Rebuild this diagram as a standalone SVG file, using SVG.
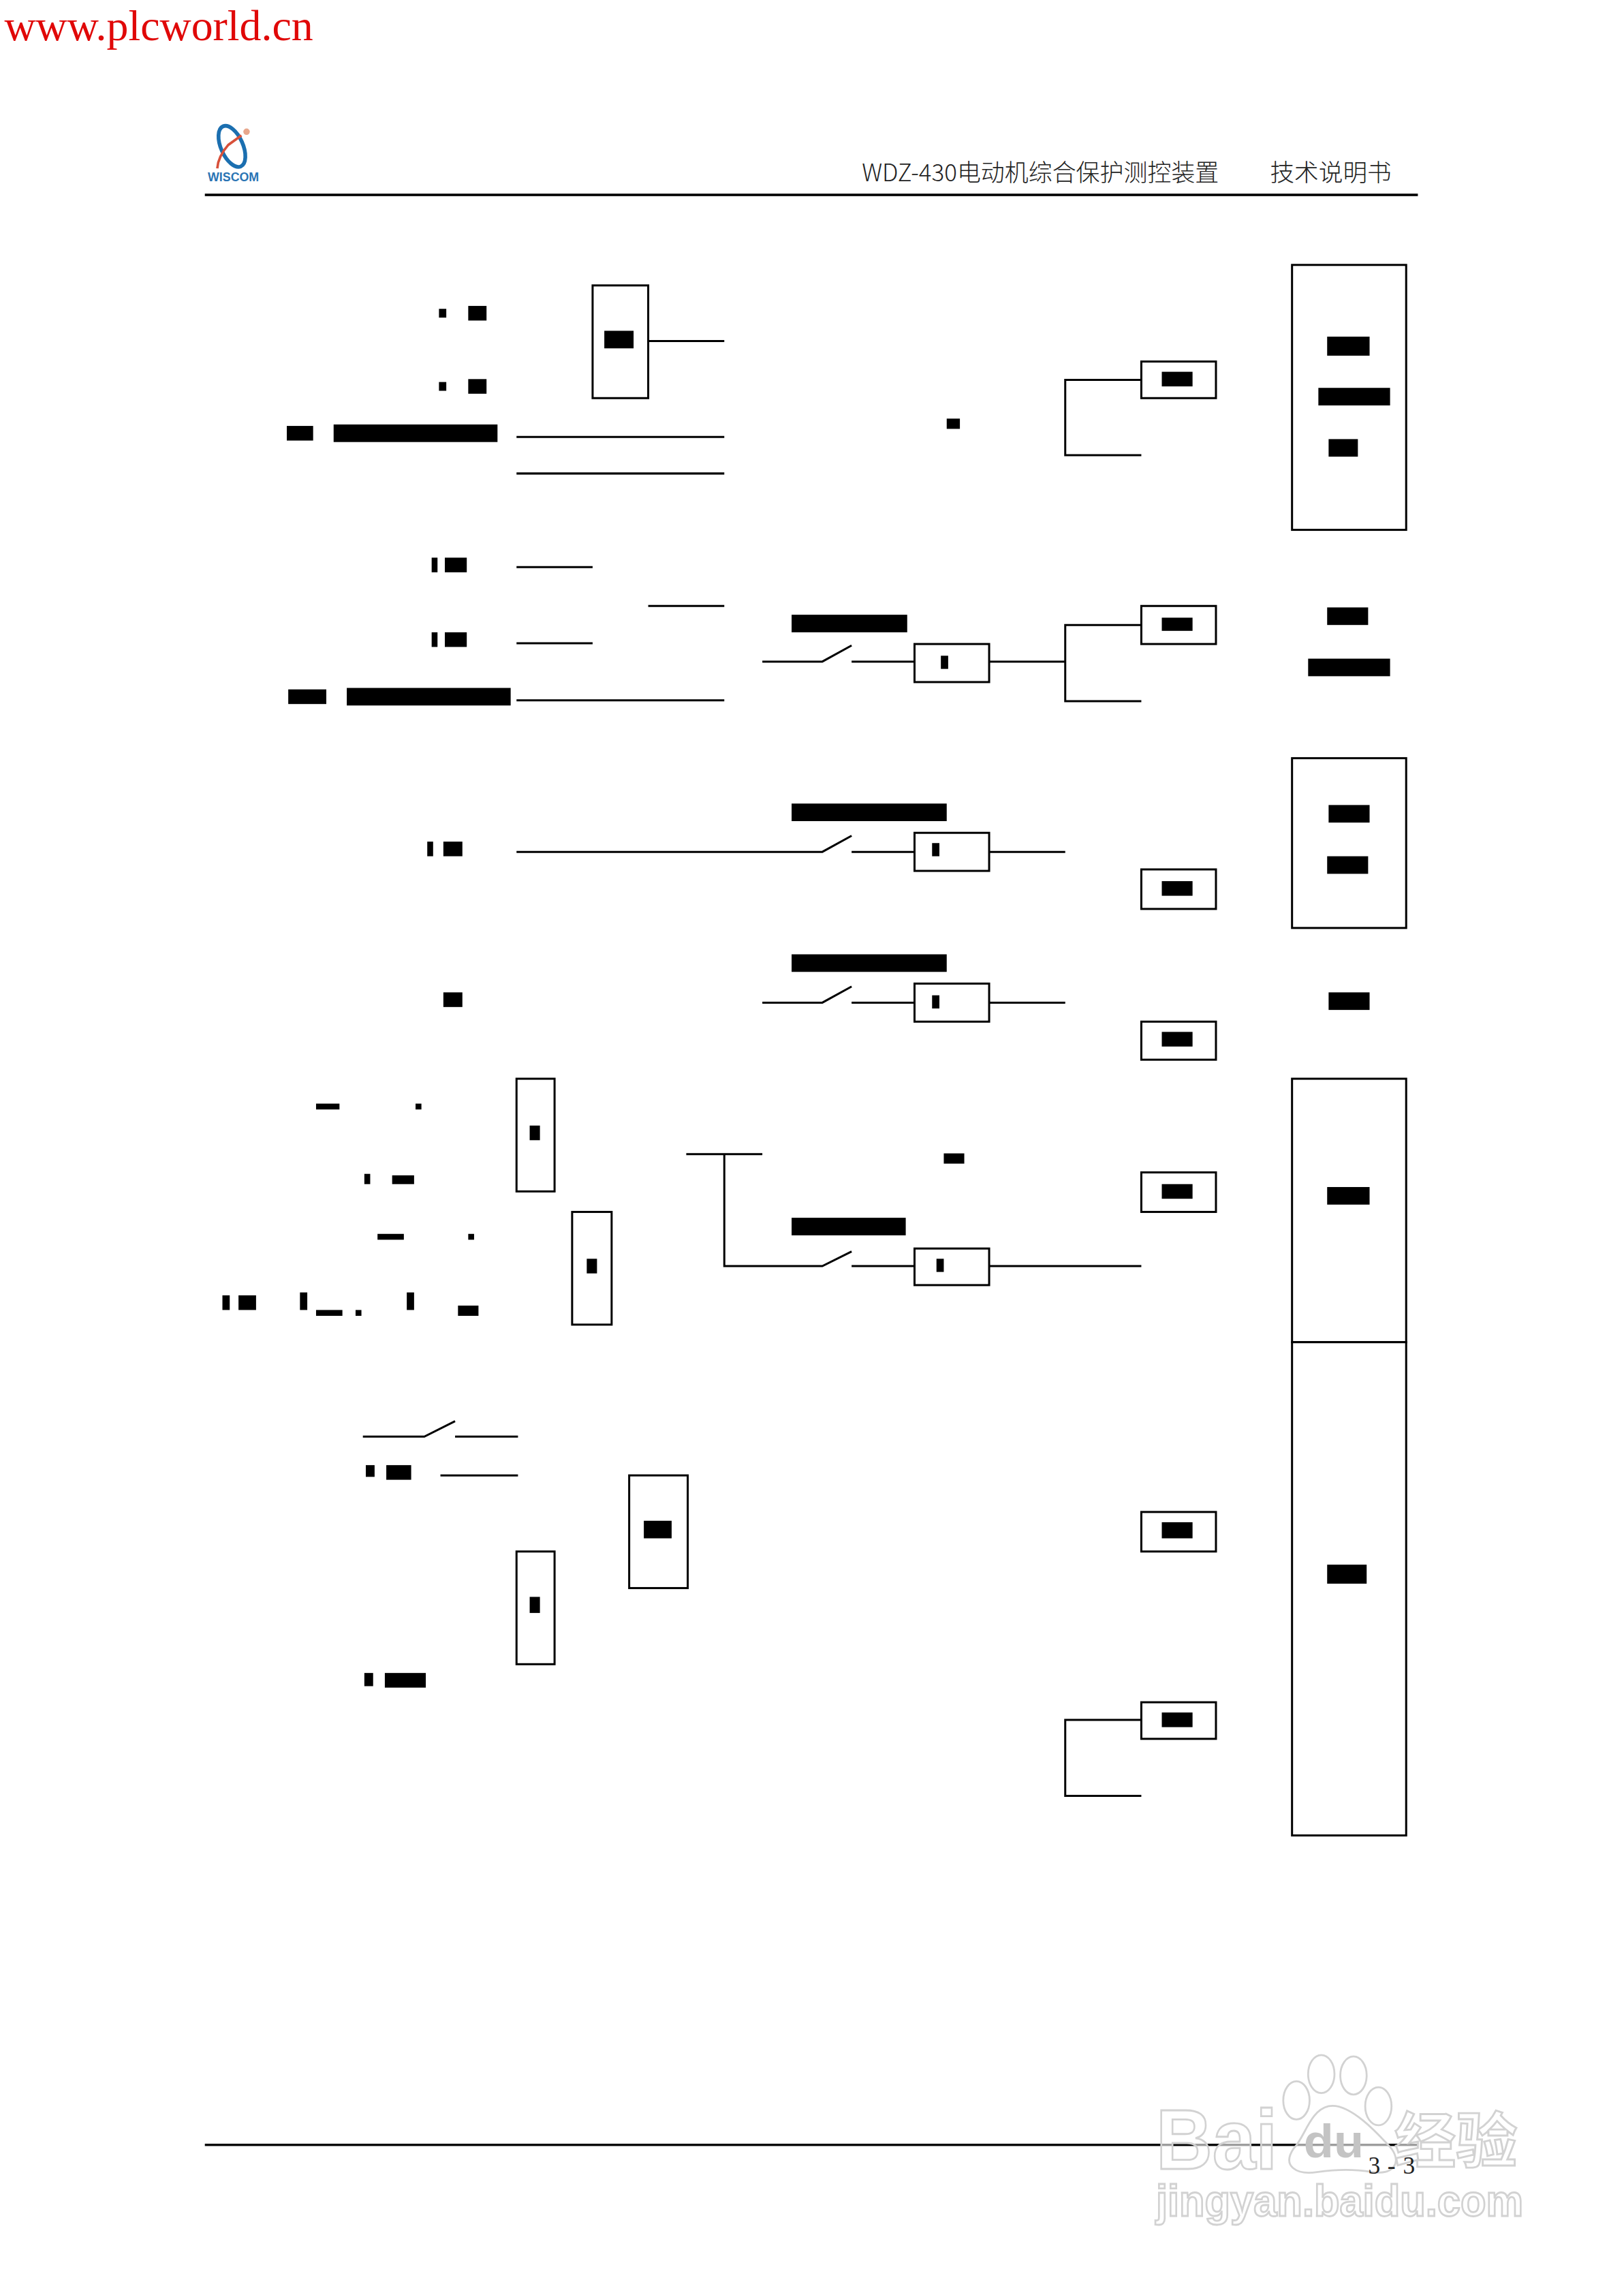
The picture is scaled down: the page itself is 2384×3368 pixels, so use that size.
<svg xmlns="http://www.w3.org/2000/svg" width="2384" height="3368" viewBox="0 0 2384 3368">
<style>
.b{fill:#fff;stroke:#000;stroke-width:1.4}
.n{fill:none;stroke:#000;stroke-width:1.4}
.r{fill:#000}
.wm{fill:#fff;fill-opacity:.62;stroke:#d2d2d2;stroke-width:1.3;font-family:"Liberation Sans",Arial,sans-serif;font-weight:700}
</style>
<rect width="2384" height="3368" fill="#fff"/>
<g transform="scale(2.148)">
<g id="site-mark"><text x="3" y="27.500" font-family="'Liberation Serif',serif" font-size="29.500" fill="#e00808" textLength="211" lengthAdjust="spacingAndGlyphs">www.plcworld.cn</text></g>
<g id="logo">
<ellipse cx="158.500" cy="100" rx="7.500" ry="15" transform="rotate(-24 158.500 100)" fill="none" stroke="#1b6fb0" stroke-width="2.600"/>
<path d="M165 92.500L156 99Q149 107 148.500 115" fill="none" stroke="#d8503a" stroke-width="1.700"/>
<circle cx="168.500" cy="90" r="2.200" fill="#e8a78c"/>
<text x="142" y="124" font-family="'Liberation Sans',sans-serif" font-size="8.500" font-weight="700" fill="#2a74b4" textLength="35" lengthAdjust="spacingAndGlyphs">WISCOM</text>
</g>
<g id="page-header">
<text x="589" y="124" font-family="'Noto Sans CJK SC','Liberation Serif',serif" font-size="16.300" font-weight="300" fill="#222" textLength="244" lengthAdjust="spacingAndGlyphs">WDZ-430电动机综合保护测控装置</text>
<text x="868" y="124" font-family="'Noto Sans CJK SC',serif" font-size="16.500" font-weight="300" fill="#222" textLength="83" lengthAdjust="spacingAndGlyphs">技术说明书</text>
<rect x="140" y="132.300" width="829" height="1.700" class="r"/>
</g>
<g id="connectors">
<path class="n" d="M443 233H495M353 298.500H495M353 323.500H495M353 387.500H405M443 414H495M353 439.500H405M353 478.500H495"/>
<path class="n" d="M780 259.500H728V311H780"/>
<path class="n" d="M521 452H562L582 441M582 452H625M676 452H728M780 427H728V479H780"/>
<path class="n" d="M353 582H562L582 571M582 582H625M676 582H728"/>
<path class="n" d="M521 685H562L582 674M582 685H625M676 685H728"/>
<path class="n" d="M469 788.500H521M495 788.500V865H562L582 855M582 865H625M676 865H780"/>
<path class="n" d="M248 981.500H290L311 971M311 981.500H354M301 1008H354"/>
<path class="n" d="M780 1175H728V1227H780"/>
</g>
<g id="labels-left">
<rect class="r" x="300" y="211" width="5" height="6"/><rect class="r" x="320" y="209" width="12.500" height="10"/>
<rect class="r" x="300" y="261" width="5" height="6"/><rect class="r" x="320" y="259" width="12.500" height="10"/>
<rect class="r" x="196" y="291" width="18" height="10"/><rect class="r" x="228" y="290" width="112" height="12"/>
<rect class="r" x="295" y="381" width="4" height="10"/><rect class="r" x="304" y="381" width="15" height="10"/>
<rect class="r" x="295" y="432" width="4" height="10"/><rect class="r" x="304" y="432" width="15" height="10"/>
<rect class="r" x="197" y="471" width="26" height="10"/><rect class="r" x="237" y="470" width="112" height="12"/>
<rect class="r" x="292" y="575" width="4" height="10"/><rect class="r" x="303" y="575" width="13" height="10"/>
<rect class="r" x="303" y="678" width="13" height="10"/>
<rect class="r" x="216" y="754" width="16" height="4"/><rect class="r" x="284" y="754" width="4" height="4"/>
<rect class="r" x="249" y="802" width="4" height="7"/><rect class="r" x="268" y="803" width="15" height="6"/>
<rect class="r" x="258" y="843" width="18" height="4"/><rect class="r" x="320" y="843" width="4" height="4"/>
<rect class="r" x="152" y="885" width="5" height="10"/><rect class="r" x="163" y="885" width="12" height="10"/>
<rect class="r" x="205" y="883" width="5" height="12"/><rect class="r" x="216" y="895" width="18" height="4"/><rect class="r" x="243" y="895" width="4" height="4"/>
<rect class="r" x="278" y="883" width="5" height="12"/><rect class="r" x="313" y="892" width="14" height="7"/>
<rect class="r" x="250" y="1001" width="6" height="8"/><rect class="r" x="264" y="1001" width="17" height="10"/>
<rect class="r" x="249" y="1143" width="6" height="9"/><rect class="r" x="263" y="1143" width="28" height="10"/>
</g>
<g id="labels-mid">
<rect class="r" x="647" y="286" width="9" height="7"/>
<rect class="r" x="541" y="420" width="79" height="12"/>
<rect class="r" x="541" y="549" width="106" height="12"/>
<rect class="r" x="541" y="652" width="106" height="12"/>
<rect class="r" x="645" y="788" width="14" height="7"/>
<rect class="r" x="541" y="832" width="78" height="12"/>
</g>
<g id="node-a"><rect class="b" x="405" y="195" width="38" height="77"/><rect class="r" x="413" y="226" width="20" height="12"/></g>
<g id="node-b"><rect class="b" x="353" y="737" width="26" height="77"/><rect class="r" x="362" y="769" width="7" height="10"/></g>
<g id="node-c"><rect class="b" x="391" y="828" width="27" height="77"/><rect class="r" x="401" y="860" width="7" height="10"/></g>
<g id="node-d"><rect class="b" x="430" y="1008" width="40" height="77"/><rect class="r" x="440" y="1039" width="19" height="12"/></g>
<g id="node-e"><rect class="b" x="353" y="1060" width="26" height="77"/><rect class="r" x="362" y="1091" width="7" height="11"/></g>
<g id="timer-1"><rect class="b" x="625" y="440" width="51" height="26"/><rect class="r" x="643" y="448" width="5" height="9"/></g>
<g id="timer-2"><rect class="b" x="625" y="569" width="51" height="26"/><rect class="r" x="637" y="576" width="5" height="9"/></g>
<g id="timer-3"><rect class="b" x="625" y="672" width="51" height="26"/><rect class="r" x="637" y="680" width="5" height="9"/></g>
<g id="timer-4"><rect class="b" x="625" y="853" width="51" height="25"/><rect class="r" x="640" y="860" width="5" height="9"/></g>
<g id="gate-1"><rect class="b" x="780" y="247" width="51" height="25"/><rect class="r" x="794" y="254" width="21" height="10"/></g>
<g id="gate-2"><rect class="b" x="780" y="414" width="51" height="26"/><rect class="r" x="794" y="422" width="21" height="9"/></g>
<g id="gate-3"><rect class="b" x="780" y="594" width="51" height="27"/><rect class="r" x="794" y="602" width="21" height="10"/></g>
<g id="gate-4"><rect class="b" x="780" y="698" width="51" height="26"/><rect class="r" x="794" y="705" width="21" height="10"/></g>
<g id="gate-5"><rect class="b" x="780" y="801" width="51" height="27"/><rect class="r" x="794" y="809" width="21" height="10"/></g>
<g id="gate-6"><rect class="b" x="780" y="1033" width="51" height="27"/><rect class="r" x="794" y="1040" width="21" height="11"/></g>
<g id="gate-7"><rect class="b" x="780" y="1163" width="51" height="25"/><rect class="r" x="794" y="1170" width="21" height="10"/></g>
<g id="panel-1"><rect class="b" x="883" y="181" width="78" height="181"/><rect class="r" x="907" y="230" width="29" height="13"/><rect class="r" x="901" y="265" width="49" height="12"/><rect class="r" x="908" y="300" width="20" height="12"/></g>
<g id="panel-1b"><rect class="r" x="907" y="415" width="28" height="12"/><rect class="r" x="894" y="450" width="56" height="12"/></g>
<g id="panel-2"><rect class="b" x="883" y="518" width="78" height="116"/><rect class="r" x="908" y="550" width="28" height="12"/><rect class="r" x="907" y="585" width="28" height="12"/></g>
<g id="panel-2b"><rect class="r" x="908" y="678" width="28" height="12"/></g>
<g id="panel-3"><rect class="b" x="883" y="737" width="78" height="180"/><rect class="r" x="907" y="811" width="29" height="12"/></g>
<g id="panel-4"><rect class="b" x="883" y="917" width="78" height="337"/><rect class="r" x="907" y="1069" width="27" height="13"/></g>
<g id="page-footer">
<rect x="140" y="1464.600" width="829" height="1.600" class="r"/>
</g>
<g id="watermark">
<text class="wm" x="790" y="1482" font-size="58" textLength="83" lengthAdjust="spacingAndGlyphs">Bai</text>
<ellipse class="wm" cx="903" cy="1417" rx="9" ry="13"/>
<ellipse class="wm" cx="925" cy="1418" rx="9" ry="13"/>
<ellipse class="wm" cx="886" cy="1435" rx="9" ry="13"/>
<ellipse class="wm" cx="942" cy="1439" rx="9" ry="13"/>
<path class="wm" d="M908 1439C895 1442 892 1460 884 1468C876 1480 886 1486 900 1484C915 1482 925 1482 938 1484C952 1486 958 1478 951 1468C942 1458 922 1436 908 1439Z"/>
<text x="891" y="1474" font-family="'Liberation Sans',sans-serif" font-weight="700" font-size="32" fill="#c4c4c4" textLength="41" lengthAdjust="spacingAndGlyphs">du</text>
<text class="wm" x="953" y="1477" font-size="41" textLength="84" lengthAdjust="spacingAndGlyphs" style="font-family:'Noto Sans CJK SC',sans-serif">经验</text>
<text class="wm" x="790" y="1514" font-size="30" textLength="251" lengthAdjust="spacingAndGlyphs">jingyan.baidu.com</text>
</g>
<g id="page-number">
<text x="935" y="1485" font-family="'Liberation Serif',serif" font-size="16.500" fill="#222" textLength="32">3 - 3</text>
</g>
</g>
</svg>
